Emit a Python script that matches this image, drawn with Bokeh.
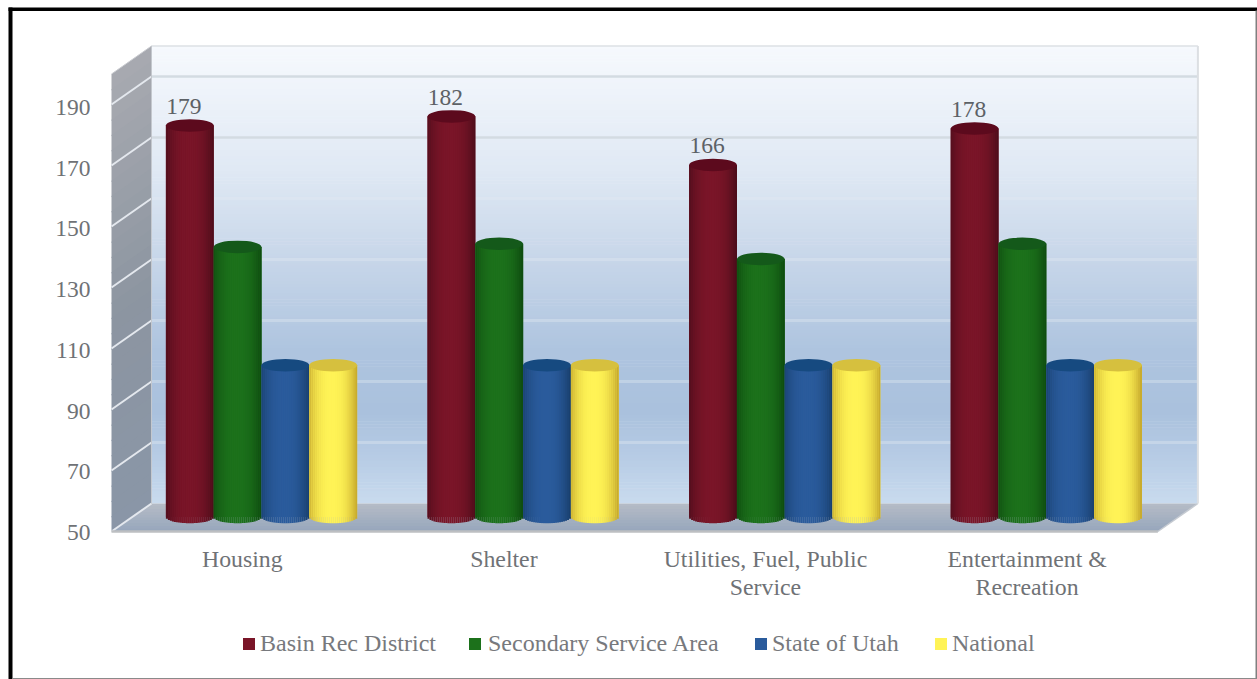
from bokeh.core.properties import value
from bokeh.embed import file_html
from bokeh.models import ColumnDataSource, FixedTicker, Legend, LegendItem, LinearAxis, Range1d
from bokeh.plotting import figure
from bokeh.resources import INLINE

categories = ["Housing", "Shelter", "Utilities, Fuel, Public\nService", "Entertainment &\nRecreation"]
basin = [179, 182, 166, 178]
secondary = [139, 140, 135, 140]
state = [100, 100, 100, 100]
national = [100, 100, 100, 100]
y_ticks = [50, 70, 90, 110, 130, 150, 170, 190]

series = [
    ("Basin Rec District", basin, "#7a1528", "#4e0d1b", "#5c0a1d"),
    ("Secondary Service Area", secondary, "#1c711b", "#0f4d10", "#14591a"),
    ("State of Utah", state, "#2a5b9c", "#19406f", "#164a80"),
    ("National", national, "#fff356", "#c9ac2e", "#d6c03e"),
]

W, H = 1257, 679
FONT = "Liberation Serif"

# Scales: one category is 261.6 px wide, one value unit is 3.05 px tall on the walls.
PX_X, PX_Y = 261.6, 3.05
X0_PX, Y50_PX = 111, 531
x_start = -X0_PX / PX_X
x_end = (W - X0_PX) / PX_X
y_start = 50 - (H - Y50_PX) / PX_Y
y_end = 50 + Y50_PX / PX_Y


def sx(px):
    return x_start + px / PX_X


def sy(px):
    return y_end - px / PX_Y


def value_range(px_per_unit, y50_px):
    """A value scale whose 50 falls on the given page row."""
    return Range1d(50 - (H - y50_px) / px_per_unit, 50 + y50_px / px_per_unit)


# 3D box: depth of the plot floor, expressed in the data scales.
DX, DY = 40 / PX_X, 28 / PX_Y
Y_TOP = 200
N_CAT = len(categories)

p = figure(width=W, height=H, output_backend="svg", toolbar_location=None,
           x_range=Range1d(x_start, x_end), y_range=Range1d(y_start, y_end),
           min_border=0, outline_line_color=None, background_fill_color="white",
           border_fill_color="white")
p.grid.visible = False

# Cylinders and tick labels sit at different depths of the box, each with its own scale.
BAR_PX_Y = 3.035
p.extra_y_ranges = {"bars": value_range(BAR_PX_Y, 516.5), "ticks": value_range(3.036, 532)}

# Back wall, painted as stacked bands from light to blue.
wall_stops = [(200, (246, 249, 253)), (185, (238, 243, 250)), (160, (224, 233, 244)),
              (130, (199, 214, 233)), (100, (174, 196, 223)), (80, (170, 193, 221)),
              (65, (183, 204, 229)), (50, (201, 219, 238))]
bands = dict(left=[], right=[], bottom=[], top=[], color=[])
for (v0, c0), (v1, c1) in zip(wall_stops, wall_stops[1:]):
    steps = int(v0 - v1)
    for i in range(steps):
        f = (i + 0.5) / steps
        rgb = [round(a + (b - a) * f) for a, b in zip(c0, c1)]
        bands["left"].append(DX)
        bands["right"].append(N_CAT + DX)
        bands["top"].append(v0 - i + DY)
        bands["bottom"].append(v0 - i - 1.2 + DY if v0 - i - 1 > 50 else 50 + DY)
        bands["color"].append("#%02x%02x%02x" % tuple(rgb))
p.quad(source=ColumnDataSource(bands), left="left", right="right", bottom="bottom",
       top="top", fill_color="color", line_color=None)

# Left wall, grey fading toward slate.
left_stops = [(200, (168, 170, 176)), (120, (140, 149, 161)), (50, (138, 150, 167))]
for (v0, c0), (v1, c1) in zip(left_stops, left_stops[1:]):
    steps = int((v0 - v1) / 5)
    for i in range(steps):
        f = (i + 0.5) / steps
        rgb = [round(a + (b - a) * f) for a, b in zip(c0, c1)]
        top = v0 - i * 5
        bot = max(top - 5.4, 50)
        p.patch([0, DX, DX, 0], [bot, bot + DY, top + DY, top],
                fill_color="#%02x%02x%02x" % tuple(rgb), line_color=None)

# Floor, lighter at the back edge.
floor_back, floor_front = (182, 188, 198), (150, 166, 188)
for i in range(10):
    f0, f1 = i / 10, (i + 1) / 10
    rgb = [round(a + (b - a) * (f0 + 0.05)) for a, b in zip(floor_back, floor_front)]
    back0, back1 = 1 - f0, max(1 - f1 - 0.04, 0)
    p.patch([back0 * DX, N_CAT + back0 * DX, N_CAT + back1 * DX, back1 * DX],
            [50 + back0 * DY, 50 + back0 * DY, 50 + back1 * DY, 50 + back1 * DY],
            fill_color="#%02x%02x%02x" % tuple(rgb), line_color=None)

# Gridlines wrap from the left wall onto the back wall.
for v in y_ticks:
    p.line([0, DX], [v, v + DY], line_color="#e4e8ee", line_width=2)
    if v > 50:
        if v >= 170:
            p.line([DX, N_CAT + DX], [v + DY, v + DY], line_color="#d3dbe2", line_width=2.5)
        else:
            p.line([DX, N_CAT + DX], [v + DY, v + DY], line_color="#e2e9f2",
                   line_width=3, line_alpha=0.38)

# Box edges.
p.line([0, N_CAT], [50, 50], line_color="#bdbfc2", line_width=2.5)
p.line([N_CAT, N_CAT + DX], [50, 50 + DY], line_color="#c6cbd2", line_width=1.5)
p.line([N_CAT + DX, N_CAT + DX], [50 + DY, Y_TOP + DY], line_color="#dcdfe3", line_width=2)
p.line([DX, N_CAT + DX], [Y_TOP + DY, Y_TOP + DY], line_color="#dde0e4", line_width=1.5)
p.line([0, DX], [Y_TOP, Y_TOP + DY], line_color="#c9cbd0", line_width=1)
p.line([DX, DX], [50 + DY, Y_TOP + DY], line_color="#c4c8ce", line_width=1)

# Cylinders stand halfway along the floor's depth.
BAR_W = 47.8 / PX_X
BAR_DX = 19.2 / PX_X
CAP_H = 12.5 / BAR_PX_Y
STRIPS = 24


def mix(a, b, f):
    ca = [int(a[i:i + 2], 16) for i in (1, 3, 5)]
    cb = [int(b[i:i + 2], 16) for i in (1, 3, 5)]
    return "#%02x%02x%02x" % tuple(round(u + (v - u) * f) for u, v in zip(ca, cb))


bars = []
for s, (name, vals, body, edge, cap) in enumerate(series):
    xs = [c + 0.5 + BAR_DX + (s - 1.5) * BAR_W for c in range(N_CAT)]
    bars.append(p.vbar(x=xs, width=BAR_W, bottom=50, top=vals, fill_color=body, line_color=None,
                       y_range_name="bars"))

    strips = dict(left=[], right=[], bottom=[], top=[], color=[])
    for x, t in zip(xs, vals):
        for j in range(STRIPS):
            u = (j + 0.5) / STRIPS * 2 - 1
            f = min(1.0, abs(u + 0.05) ** 2.4)
            strips["left"].append(x + (j / STRIPS - 0.5) * BAR_W)
            strips["right"].append(x + ((j + 1.05) / STRIPS - 0.5) * BAR_W)
            strips["bottom"].append(50 - CAP_H / 2 * (1 - u * u) ** 0.5)
            strips["top"].append(t)
            strips["color"].append(mix(body, edge, f))
    p.quad(source=ColumnDataSource(strips), left="left", right="right", bottom="bottom",
           top="top", fill_color="color", line_color=None, y_range_name="bars")
    p.ellipse(x=xs, y=vals, width=BAR_W, height=CAP_H, fill_color=cap, line_color=None,
              y_range_name="bars")

# Value labels above the first series.
first_x = [c + 0.5 + BAR_DX - 1.5 * BAR_W for c in range(N_CAT)]
p.text(x=first_x, y=basin, text=[str(v) for v in basin], y_range_name="bars",
       text_font=value(FONT), text_font_size="23.5px", text_color="#5c6166",
       text_align="center", text_baseline="middle", x_offset=-6, y_offset=-19)

# Outer frame of the chart.
p.quad(left=sx(8), right=sx(12), bottom=sy(H), top=sy(7), fill_color="#000000", line_color=None)
p.quad(left=sx(8), right=sx(W), bottom=sy(10.5), top=sy(7), fill_color="#000000", line_color=None)
p.quad(left=sx(1255), right=sx(1257), bottom=sy(H), top=sy(10), fill_color="#808080", line_color=None)
p.quad(left=sx(12), right=sx(W), bottom=sy(H), top=sy(677.5), fill_color="#8a8a8a", line_color=None)


def style_axis(ax, size):
    ax.axis_line_color = None
    ax.major_tick_line_color = None
    ax.minor_tick_line_color = None
    ax.major_label_text_font = FONT
    ax.major_label_text_font_size = size
    ax.major_label_text_color = "#6f7276"


# Axes sit on the front edge of the box.
p.yaxis.visible = False
y_axis = LinearAxis(y_range_name="ticks", fixed_location=0, ticker=FixedTicker(ticks=y_ticks),
                    major_label_standoff=15)
style_axis(y_axis, "23.5px")
p.add_layout(y_axis, "left")

# Category labels: the second line of a two-line name rides on a second axis for tight leading.
tick_pos = [c + 0.5 for c in range(N_CAT)]
first_lines = {t: c.split("\n")[0] for t, c in zip(tick_pos, categories)}
second_lines = {t: c.split("\n")[1] for t, c in zip(tick_pos, categories) if "\n" in c}

ax1 = p.xaxis[0]
ax1.fixed_location = 50
ax1.ticker = FixedTicker(ticks=tick_pos)
ax1.major_label_overrides = first_lines
ax1.major_label_standoff = 8
style_axis(ax1, "23.8px")

ax2 = LinearAxis(fixed_location=50, ticker=FixedTicker(ticks=list(second_lines)),
                 major_label_overrides=second_lines, major_label_standoff=36)
style_axis(ax2, "23.8px")
p.add_layout(ax2, "below")

# One legend per entry so each can keep its own place along the row.
legend_x = [241, 467, 753, 933]
legend_gap = [4, 6, 4, 4]
for (name, *_), bar, lx, gap in zip(series, bars, legend_x, legend_gap):
    lg = Legend(items=[LegendItem(label=name, renderers=[bar])], orientation="horizontal",
                location=(lx, H - 657), margin=0, padding=0, spacing=0,
                glyph_width=15, glyph_height=15, label_standoff=gap,
                label_text_font=FONT, label_text_font_size="24px",
                label_text_color="#77797d", label_height=24,
                border_line_color=None, background_fill_alpha=0)
    p.add_layout(lg, "center")

open("out.html", "w").write(file_html(p, INLINE))
